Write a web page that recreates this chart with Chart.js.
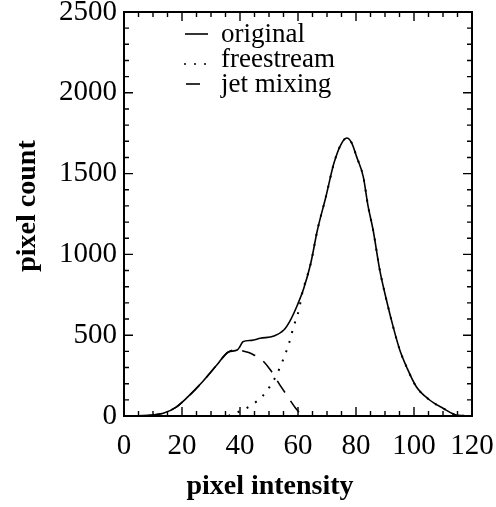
<!DOCTYPE html>
<html>
<head>
<meta charset="utf-8">
<script src="https://cdn.jsdelivr.net/npm/chart.js@4"></script>
<style>
  body { margin: 0; background: #fff; }
  #wrap { width: 496px; height: 507px; }
</style>
</head>
<body>
<div id="wrap"><canvas id="histChart"></canvas></div>
<script>
// values
const originalX = [0, 5, 10, 14, 18, 22, 27, 32, 36, 39, 40, 41, 44, 47, 51.7, 55.1, 57.4, 59.8, 62, 64.4, 66.7, 69.6, 72.4, 74.8, 76.8, 78.5, 80.2, 82.5, 84.2, 85.9, 88.2, 90.5, 92.8, 95.1, 97.4, 100.8, 105.4, 110, 114.6, 120];
const originalY = [0, 2, 6, 20, 55, 118, 210, 315, 396, 408, 430, 460, 468, 481, 495, 532, 594, 687, 790, 945, 1151, 1355, 1565, 1680, 1720, 1690, 1605, 1481, 1295, 1151, 903, 718, 553, 408, 305, 181, 99, 48, 6, 0];

const freestreamX = [36, 38, 41, 44.5, 47.6, 51.7, 54.6, 56.9, 58, 59.2, 60.3, 61.5, 64.4, 66.7, 69.6, 72.4, 74.8, 76.8, 78.5, 80.2, 82.5, 84.2, 85.9, 88.2, 90.5, 92.8, 95.1, 97.4, 100.8, 105.4, 110, 114.6, 120];
const freestreamY = [0, 15, 37, 74, 120, 223, 336, 450, 522, 594, 656, 763, 945, 1151, 1355, 1565, 1680, 1720, 1690, 1605, 1481, 1295, 1151, 903, 718, 553, 408, 305, 181, 99, 48, 6, 0];

const jetX = [0, 5, 10, 14, 18, 22, 27, 32, 36, 39, 42.4, 44, 47.6, 50.5, 53.4, 55.7, 59.2, 61.5];
const jetY = [0, 2, 6, 20, 55, 118, 210, 315, 396, 408, 396, 385, 346, 285, 202, 140, 48, 0];

const xTicks = [0, 20, 40, 60, 80, 100, 120];
const yTicks = [0, 500, 1000, 1500, 2000, 2500];
const seriesNames = ['original', 'freestream', 'jet mixing'];

const serif = "'Liberation Serif', 'DejaVu Serif', serif";

function pts(xs, ys) {
  return xs.map((x, i) => ({ x: x, y: ys[i] }));
}

const frame = {
  id: 'frame',
  afterDatasetsDraw(chart) {
    const { ctx, chartArea: a, scales: { x, y } } = chart;
    ctx.save();
    ctx.strokeStyle = '#000';
    ctx.lineWidth = 2;
    ctx.strokeRect(a.left, a.top, a.right - a.left, a.bottom - a.top);

    ctx.lineWidth = 1.4;
    ctx.beginPath();
    for (let v = 0; v <= 120; v += 5) {
      const px = x.getPixelForValue(v);
      const len = v % 20 === 0 ? 9 : 5;
      ctx.moveTo(px, a.bottom); ctx.lineTo(px, a.bottom - len);
      ctx.moveTo(px, a.top); ctx.lineTo(px, a.top + len);
    }
    for (let v = 0; v <= 2500; v += 100) {
      const py = y.getPixelForValue(v);
      const len = v % 500 === 0 ? 9 : 5;
      ctx.moveTo(a.left, py); ctx.lineTo(a.left + len, py);
      ctx.moveTo(a.right, py); ctx.lineTo(a.right - len, py);
    }
    ctx.stroke();

    // legend in the upper left of the plot
    ctx.fillStyle = '#000';
    ctx.font = '27px ' + serif;
    ctx.textBaseline = 'middle';
    ctx.textAlign = 'left';
    chart.data.datasets.forEach((ds, i) => {
      const ly = 35 + i * 25;
      ctx.beginPath();
      ctx.lineWidth = 1.6;
      if (i === 1) {
        ctx.setLineDash([2, 8]);
        ctx.moveTo(184, ly + 4); ctx.lineTo(210, ly + 4);
      } else if (i === 2) {
        ctx.setLineDash([]);
        ctx.moveTo(186, ly - 1); ctx.lineTo(200, ly - 1);
      } else {
        ctx.setLineDash([]);
        ctx.moveTo(185, ly - 1); ctx.lineTo(208, ly - 1);
      }
      ctx.stroke();
      ctx.fillText(ds.label, 221, ly);
    });
    ctx.setLineDash([]);

    // axis titles
    ctx.font = 'bold 28px ' + serif;
    ctx.textAlign = 'center';
    ctx.fillText('pixel intensity', 270, 487);
    ctx.translate(28, 206);
    ctx.rotate(-Math.PI / 2);
    ctx.fillText('pixel count', 0, 0);
    ctx.restore();
  }
};

const ctx = document.getElementById('histChart').getContext('2d');
const histChart = new Chart(ctx, {
  type: 'line',
  data: {
    datasets: [
      {
        label: seriesNames[0],
        data: pts(originalX, originalY),
        borderColor: '#000',
        borderWidth: 1.6,
        pointRadius: 0,
        cubicInterpolationMode: 'monotone'
      },
      {
        label: seriesNames[1],
        data: pts(freestreamX, freestreamY),
        borderColor: '#000',
        borderWidth: 2,
        borderDash: [2, 8],
        pointRadius: 0,
        cubicInterpolationMode: 'monotone'
      },
      {
        label: seriesNames[2],
        data: pts(jetX, jetY),
        borderColor: '#000',
        borderWidth: 1.6,
        borderDash: [14, 10],
        pointRadius: 0,
        cubicInterpolationMode: 'monotone'
      }
    ]
  },
  options: {
    responsive: true,
    maintainAspectRatio: false,
    animation: false,
    layout: { padding: { top: 12, right: 24, left: 0, bottom: 0 } },
    plugins: {
      legend: { display: false },
      tooltip: { enabled: false }
    },
    scales: {
      x: {
        type: 'linear',
        min: 0,
        max: 120,
        grid: { display: false, drawTicks: false },
        border: { display: false },
        afterBuildTicks: s => { s.ticks = xTicks.map(v => ({ value: v })); },
        afterFit: s => { s.height = 91; s.paddingLeft = 0; s.paddingRight = 0; },
        ticks: { color: '#000', padding: 13, maxRotation: 0, callback: v => String(v), font: { family: serif, size: 29 } }
      },
      y: {
        min: 0,
        max: 2500,
        grid: { display: false, drawTicks: false },
        border: { display: false },
        afterBuildTicks: s => { s.ticks = yTicks.map(v => ({ value: v })); },
        afterFit: s => { s.width = 124; s.paddingTop = 0; s.paddingBottom = 0; },
        ticks: { color: '#000', padding: 7, callback: v => String(v), font: { family: serif, size: 29 } }
      }
    }
  },
  plugins: [frame]
});
</script>
</body>
</html>
